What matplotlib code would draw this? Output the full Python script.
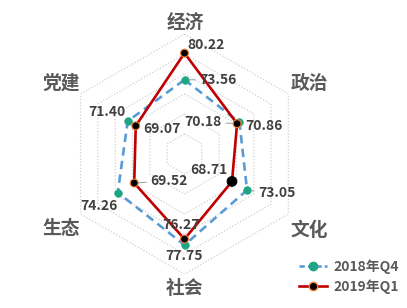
import numpy as np
import matplotlib
matplotlib.use("Agg")
import matplotlib.pyplot as plt
from matplotlib.lines import Line2D

plt.rcParams['font.family'] = ['Noto Sans CJK SC', 'DejaVu Sans']

categories = ['经济', '政治', '文化', '社会', '生态', '党建']
series_names = ['2018年Q4', '2019年Q1']
values_2018q4 = [73.56, 70.86, 73.05, 77.75, 74.26, 71.40]
values_2019q1 = [80.22, 70.18, 68.71, 76.27, 69.52, 69.07]
grid_levels = [60, 65, 70, 75, 80, 85]
r_min, r_max = 55, 85

W, H, DPI = 407, 308, 100
fig = plt.figure(figsize=(W / DPI, H / DPI), dpi=DPI)
fig.patch.set_facecolor('white')

cx, cy, rad = 184.5, 154, 120
ax = fig.add_axes([(cx - rad) / W, (H - cy - rad) / H, 2 * rad / W, 2 * rad / H],
                  projection='polar')
ax.set_theta_offset(np.pi / 2)
ax.set_theta_direction(-1)
ax.set_ylim(r_min, r_max)
ax.grid(False)
ax.set_xticks([])
ax.set_yticks([])
ax.spines['polar'].set_visible(False)
ax.patch.set_alpha(0)

n = len(categories)
theta = np.arange(n) * 2 * np.pi / n
theta_c = np.append(theta, theta[0])

# hexagonal grid rings
for lv in grid_levels:
    ax.plot(theta_c, [lv] * (n + 1), color='#d0d0d0', lw=0.9,
            ls=(0, (1, 1.5)), zorder=1)

blue = '#5b9bd5'
green = '#20a584'
red = '#c00000'
orange = '#ed7d31'

v18 = np.append(values_2018q4, values_2018q4[0])
v19 = np.append(values_2019q1, values_2019q1[0])
ax.plot(theta_c, v18, color=blue, lw=1.9, dashes=(3.2, 2.0), zorder=3)
ax.scatter(theta, values_2018q4, s=30, color=green, edgecolors=green,
           linewidths=0.5, zorder=4)
ax.plot(theta_c, v19, color=red, lw=1.9, zorder=5)
edge19 = [orange, orange, 'black', orange, orange, orange]
size19 = [32, 32, 48, 32, 32, 32]
ax.scatter(theta, values_2019q1, s=size19, color='black', edgecolors=edge19,
           linewidths=0.8, zorder=6)

# value labels (offsets in pixels from each marker)
off18 = [(33.5, 0), (24.6, -3.7), (30, -3), (0, -11), (-18.8, -13.2), (-20.7, 9.5)]
off19 = [(21.5, 8), (-34, 1.6), (-23, 11.4), (-3.5, 14), (34.8, 2.3), (26, -3)]
lead18 = [True, False, True, False, False, False]
lead19 = [False, True, False, False, True, False]
for vals, offs, leads in ((values_2018q4, off18, lead18), (values_2019q1, off19, lead19)):
    for t, v, o, ld in zip(theta, vals, offs, leads):
        kw = {}
        if ld:
            kw['arrowprops'] = dict(arrowstyle='-', color='#a6a6a6', lw=0.8,
                                    shrinkA=1, shrinkB=3)
        ax.annotate(f'{v:.2f}', xy=(t, v), xytext=o, textcoords='offset pixels',
                    ha='center', va='center', fontsize=10, fontweight='bold',
                    color='#404040', zorder=7, annotation_clip=False, **kw)

# category labels
label_pos = [(185, 22), (309.5, 83.5), (309.5, 230), (184.5, 288.5), (61, 228.5), (61, 83.5)]
for name, (px, py) in zip(categories, label_pos):
    fig.text(px / W, 1 - py / H, name, ha='center', va='center', fontsize=13.5,
             fontweight='bold', color='#595959')

handles = [
    Line2D([], [], color=blue, lw=1.9, dashes=(2.0, 1.2), marker='o',
           markersize=6, markerfacecolor=green, markeredgecolor=green),
    Line2D([], [], color=red, lw=1.9, marker='o', markersize=6,
           markerfacecolor='black', markeredgecolor=orange),
]
leg = fig.legend(handles, series_names, loc='center left',
                 bbox_to_anchor=(299 / W, 1 - 277 / H), frameon=False,
                 handlelength=2.0, handletextpad=0.45, labelspacing=0.4,
                 borderaxespad=0, borderpad=0,
                 prop=dict(family=['Noto Sans CJK SC', 'DejaVu Sans'],
                           weight='bold', size=10))
for t in leg.get_texts():
    t.set_color('#595959')

fig.savefig('out.png', dpi=DPI, facecolor='white')
